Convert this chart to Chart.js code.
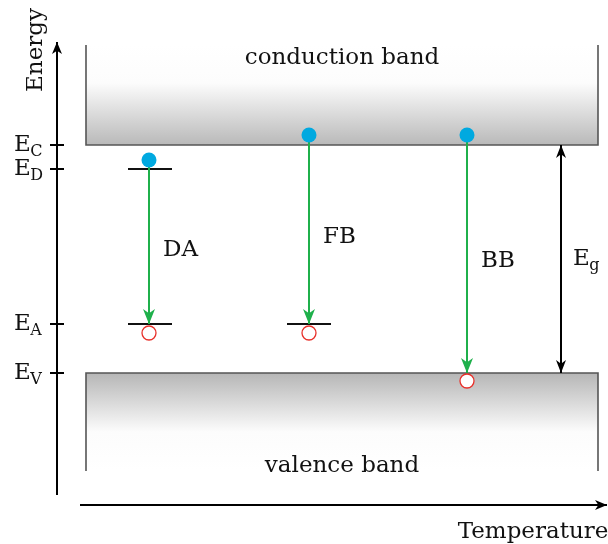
<!DOCTYPE html>
<html>
<head>
<meta charset="utf-8">
<script src="https://cdn.jsdelivr.net/npm/chart.js@4/dist/chart.umd.min.js"></script>
<style>
  html, body { margin: 0; padding: 0; background: #fff; }
  canvas { display: block; }
</style>
</head>
<body>
<canvas id="c" width="608" height="544"></canvas>
<script>
// ---- Energy levels (valence band edge at 0) ----
const levelNames = ['C', 'D', 'A', 'V'];
const levelEnergies = [2.28, 2.04, 0.49, 0.0];

// ---- Band extents ----
const bandX = [86, 598];          // temperature-axis span of both bands
const conductionTop = 3.28;
const valenceBottom = -0.98;

// ---- Localized donor / acceptor levels: [level, x start, x end] ----
const localLevels = [['D', 128, 172], ['A', 128, 172], ['A', 287, 331]];

// ---- Recombination transitions ----
const transitionNames = ['DA', 'FB', 'BB'];
const transitionX = [149, 309, 467];
const electronE = [2.13, 2.38, 2.38];
const arrowEndE = [0.49, 0.49, 0.0];
const holeE = [0.40, 0.40, -0.08];

// ---- Band gap marker ----
const gapX = 561;

// ---- Axis extents ----
const energyAxis = { x: 57, from: -1.22, to: 3.31 };
const tempAxis = { e: -1.32, from: 80, to: 607 };

// ---- Colors / fonts ----
const C_BLUE = '#00a9e0', C_GREEN = '#1fb04b', C_RED = '#e8302a';
const FONT = '"DejaVu Serif", "Liberation Serif", serif';
const SIZE = 23;

const lvl = name => levelEnergies[levelNames.indexOf(name)];

function seg(points, color, width, order) {
  return { data: points, showLine: true, borderColor: color, borderWidth: width,
           pointRadius: 0, fill: false, tension: 0, order: order };
}

const datasets = [];
// electrons and holes on top
datasets.push({ data: transitionX.map((x, i) => ({ x, y: electronE[i] })),
  pointRadius: 7.5, pointBackgroundColor: C_BLUE, pointBorderWidth: 0, order: 0 });
datasets.push({ data: transitionX.map((x, i) => ({ x, y: holeE[i] })),
  pointRadius: 7, pointBackgroundColor: '#fff', pointBorderColor: C_RED, pointBorderWidth: 1.3, order: 0 });
// transitions
transitionX.forEach((x, i) => datasets.push(seg([{ x, y: electronE[i] }, { x, y: arrowEndE[i] }], C_GREEN, 2, 1)));
// local levels
localLevels.forEach(([n, a, b]) => datasets.push(seg([{ x: a, y: lvl(n) }, { x: b, y: lvl(n) }], '#111', 2, 2)));
// band outlines
datasets.push(seg([{ x: bandX[0], y: conductionTop }, { x: bandX[0], y: lvl('C') },
  { x: bandX[1], y: lvl('C') }, { x: bandX[1], y: conductionTop }], '#555', 1.6, 3));
datasets.push(seg([{ x: bandX[0], y: valenceBottom }, { x: bandX[0], y: lvl('V') },
  { x: bandX[1], y: lvl('V') }, { x: bandX[1], y: valenceBottom }], '#555', 1.6, 3));
// band gap double arrow
datasets.push(seg([{ x: gapX, y: lvl('C') }, { x: gapX, y: lvl('V') }], '#000', 2, 2));
// axes
datasets.push(seg([{ x: energyAxis.x, y: energyAxis.from }, { x: energyAxis.x, y: energyAxis.to }], '#000', 2, 2));
datasets.push(seg([{ x: tempAxis.from, y: tempAxis.e }, { x: tempAxis.to, y: tempAxis.e }], '#000', 2, 2));
// energy-axis ticks
levelEnergies.forEach(e => datasets.push(seg([{ x: energyAxis.x - 7, y: e }, { x: energyAxis.x + 7, y: e }], '#000', 2, 2)));

function arrowHead(ctx, tx, ty, dx, dy, len, half, color) {
  const bx = tx - dx * len, by = ty - dy * len;
  const nx = -dy, ny = dx;
  const mx = tx - dx * len * 0.72, my = ty - dy * len * 0.72;
  ctx.beginPath();
  ctx.moveTo(tx, ty);
  ctx.lineTo(bx + nx * half, by + ny * half);
  ctx.lineTo(mx, my);
  ctx.lineTo(bx - nx * half, by - ny * half);
  ctx.closePath();
  ctx.fillStyle = color;
  ctx.fill();
}

function subText(ctx, x, y, main, sub, size) {
  ctx.textAlign = 'left';
  ctx.textBaseline = 'alphabetic';
  ctx.font = size + 'px ' + FONT;
  ctx.fillText(main, x, y);
  const w = ctx.measureText(main).width;
  ctx.font = Math.round(size * 0.68) + 'px ' + FONT;
  ctx.fillText(sub, x + w - 0.5, y + 5);
}

const diagram = {
  id: 'bandDiagram',
  beforeDatasetsDraw(chart) {
    const ctx = chart.ctx, sx = chart.scales.x, sy = chart.scales.y;
    const x0 = sx.getPixelForValue(bandX[0]), x1 = sx.getPixelForValue(bandX[1]);
    // conduction band shading
    let t = sy.getPixelForValue(conductionTop), b = sy.getPixelForValue(lvl('C'));
    let g = ctx.createLinearGradient(0, t, 0, b);
    g.addColorStop(0, '#ffffff'); g.addColorStop(0.38, '#fcfcfc'); g.addColorStop(1, '#b9b9b9');
    ctx.fillStyle = g; ctx.fillRect(x0, t, x1 - x0, b - t);
    // valence band shading
    t = sy.getPixelForValue(lvl('V')); b = sy.getPixelForValue(valenceBottom);
    g = ctx.createLinearGradient(0, t, 0, b);
    g.addColorStop(0, '#b6b6b6'); g.addColorStop(0.6, '#fcfcfc'); g.addColorStop(1, '#ffffff');
    ctx.fillStyle = g; ctx.fillRect(x0, t, x1 - x0, b - t);
  },
  afterDatasetsDraw(chart) {
    const ctx = chart.ctx, sx = chart.scales.x, sy = chart.scales.y;
    const X = v => sx.getPixelForValue(v), Y = v => sy.getPixelForValue(v);
    ctx.save();
    // transition arrowheads
    transitionX.forEach((x, i) => arrowHead(ctx, X(x), Y(arrowEndE[i]), 0, 1, 15, 6, C_GREEN));
    // band gap arrowheads
    arrowHead(ctx, X(gapX), Y(lvl('C')), 0, -1, 13, 5, '#000');
    arrowHead(ctx, X(gapX), Y(lvl('V')), 0, 1, 13, 5, '#000');
    // axis arrowheads
    arrowHead(ctx, X(energyAxis.x), Y(energyAxis.to), 0, -1, 12, 5, '#000');
    arrowHead(ctx, X(tempAxis.to), Y(tempAxis.e), 1, 0, 12, 5, '#000');

    ctx.fillStyle = '#111';
    // level labels on the energy axis
    levelNames.forEach((n, i) => subText(ctx, 14, Y(levelEnergies[i]) + 6, 'E', n, SIZE));
    // gap label
    subText(ctx, X(gapX) + 12, Y((lvl('C') + lvl('V')) / 2) + 6, 'E', 'g', SIZE);
    // transition labels
    ctx.font = SIZE + 'px ' + FONT; ctx.textAlign = 'left'; ctx.textBaseline = 'alphabetic';
    const labelE = [1.17, 1.30, 1.06];
    transitionNames.forEach((n, i) => ctx.fillText(n, X(transitionX[i]) + 14, Y(labelE[i])));
    // band names
    ctx.textAlign = 'center';
    const mid = X((bandX[0] + bandX[1]) / 2);
    ctx.fillText('conduction band', mid, Y(3.09));
    ctx.fillText('valence band', mid, Y(-0.99));
    // axis titles
    ctx.fillText('Temperature', 533, Y(-1.65));
    ctx.translate(42, Y(3.23));
    ctx.rotate(-Math.PI / 2);
    ctx.fillText('Energy', 0, 0);
    ctx.restore();
  }
};

new Chart(document.getElementById('c'), {
  type: 'scatter',
  data: { datasets },
  options: {
    responsive: false,
    animation: false,
    devicePixelRatio: 1,
    layout: { padding: 0, autoPadding: false },
    plugins: { legend: { display: false }, tooltip: { enabled: false } },
    scales: {
      x: { type: 'linear', min: 0, max: 608, display: false },
      y: { type: 'linear', min: -1.71, max: 3.73, display: false }
    }
  },
  plugins: [diagram]
});
</script>
</body>
</html>
